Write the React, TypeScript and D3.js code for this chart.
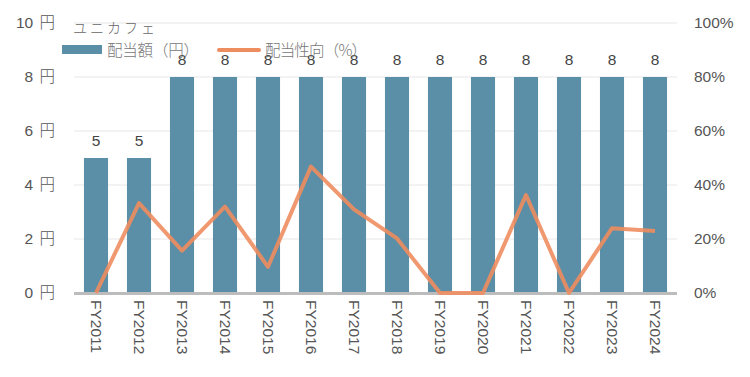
import React from "react";
import * as d3 from "d3";

const categories = ["FY2011","FY2012","FY2013","FY2014","FY2015","FY2016","FY2017","FY2018","FY2019","FY2020","FY2021","FY2022","FY2023","FY2024"];
const dividends = [5,5,8,8,8,8,8,8,8,8,8,8,8,8];
const payoutRatio = [0,33.3,15.7,32,9.7,46.8,31,20.2,0,0,36.3,0,24,23];
const leftTicks = [0,2,4,6,8,10];
const rightTicks = [0,20,40,60,80,100];
const title = "ユニカフェ";
const legendBar = "配当額（円）";
const legendLine = "配当性向（%）";

const W = 750, H = 377;
const FONT = "'Liberation Sans', Arial, 'Noto Sans CJK JP', sans-serif";
const CJK = "'Noto Sans CJK JP', sans-serif";
const BAR = "#5b8ea7";
const LINE = "#ee8d5f";

export default function App() {
  const x = d3.scaleBand<string>().domain(categories).range([74.5, 676.5]).paddingInner(0.44).paddingOuter(0.22);
  const yL = d3.scaleLinear().domain([0, 10]).range([293, 23]);
  const yR = d3.scaleLinear().domain([0, 100]).range([293, 23]);
  const line = d3.line<number>().x((_, i) => (x(categories[i]) as number) + x.bandwidth() / 2).y(d => yR(d));
  return (
    <svg width={W} height={H} style={{ position: "absolute", left: 0, top: 0, fontFamily: FONT }}>
      <rect width={W} height={H} fill="#fff" />
      {leftTicks.filter(t => t > 0).map(t => (
        <line key={t} x1={74} x2={677} y1={yL(t)} y2={yL(t)} stroke="#efefef" strokeWidth={1.5} />
      ))}
      {leftTicks.map(t => (
        <text key={"l" + t} x={55} y={yL(t)} dy="0.35em" textAnchor="end" fontSize={15.5} fill="#555" xmlSpace="preserve">
          {t + " "}<tspan fontFamily={CJK} fontWeight={300} dx={2}>円</tspan>
        </text>
      ))}
      {rightTicks.map(t => (
        <text key={"r" + t} x={694} y={yR(t)} dy="0.35em" textAnchor="start" fontSize={15.5} fill="#555">{t + "%"}</text>
      ))}
      {categories.map((c, i) => (
        <rect key={c} x={x(c)} y={yL(dividends[i])} width={x.bandwidth()} height={yL(0) - yL(dividends[i])} fill={BAR} />
      ))}
      <line x1={74} x2={677} y1={yL(0) + 0.5} y2={yL(0) + 0.5} stroke="#bcbcbc" strokeWidth={3} />
      {categories.map((c, i) => (
        <text key={"v" + c} x={(x(c) as number) + x.bandwidth() / 2} y={yL(dividends[i]) - 12} textAnchor="middle" fontSize={15.5} fill="#444">{dividends[i]}</text>
      ))}
      <path d={line(payoutRatio) || ""} fill="none" stroke={LINE} strokeOpacity={0.9} strokeWidth={4} strokeLinejoin="round" />
      {categories.map(c => {
        const cx = (x(c) as number) + x.bandwidth() / 2;
        return (
          <text key={"x" + c} transform={`translate(${cx},300) rotate(90)`} textAnchor="start" dy="0.35em" fontSize={15.5} fill="#555">{c}</text>
        );
      })}
      <text x={73} y={33} fontSize={14} fill="#666" letterSpacing={3} fontFamily={CJK} fontWeight={300}>{title}</text>
      <rect x={62} y={45} width={40} height={9} fill={BAR} />
      <text x={107} y={56} fontSize={15.5} fill="#777" fontFamily={CJK} fontWeight={300} textLength={92} lengthAdjust="spacing">{legendBar}</text>
      <line x1={219} x2={259} y1={50} y2={50} stroke={LINE} strokeWidth={4} strokeLinecap="round" />
      <text x={265} y={56} fontSize={15.5} fill="#777" fontFamily={CJK} fontWeight={300} textLength={102} lengthAdjust="spacing">{legendLine}</text>
    </svg>
  );
}
